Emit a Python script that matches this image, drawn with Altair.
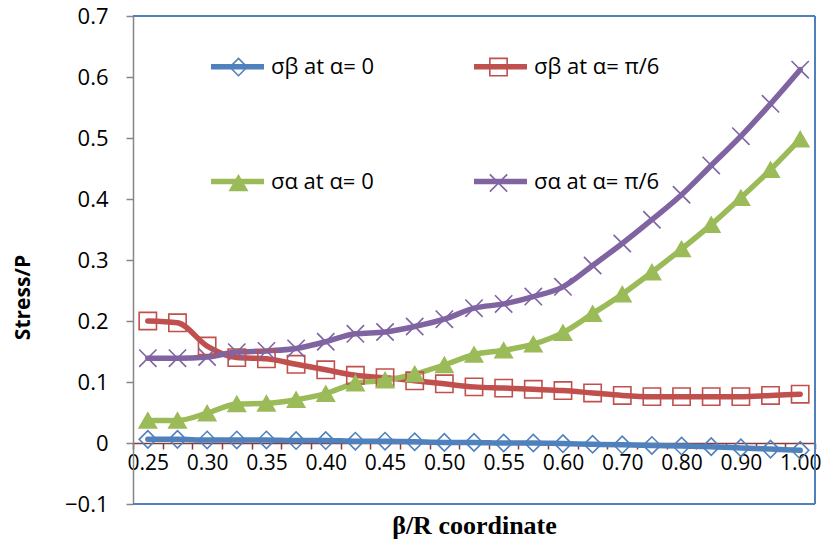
import altair as alt
import pandas as pd

# ---- data ----
x_values = [0.25, 0.275, 0.30, 0.325, 0.35, 0.375, 0.40, 0.425, 0.45, 0.475,
            0.50, 0.525, 0.55, 0.575, 0.60, 0.65, 0.70, 0.75, 0.80, 0.85,
            0.90, 0.95, 1.00]
x_tick_labels = ["0.25", "0.30", "0.35", "0.40", "0.45", "0.50", "0.55",
                 "0.60", "0.70", "0.80", "0.90", "1.00"]
y_ticks = [-0.1, 0.0, 0.1, 0.2, 0.3, 0.4, 0.5, 0.6, 0.7]

series_names = ["σβ at α= 0", "σβ at α= π/6", "σα at α= 0", "σα at α= π/6"]

sigma_b_a0 = [0.006, 0.006, 0.005, 0.005, 0.005, 0.004, 0.004, 0.003, 0.003,
              0.002, 0.001, 0.001, 0.000, 0.000, -0.001, -0.002, -0.003,
              -0.004, -0.005, -0.006, -0.008, -0.010, -0.012]
sigma_b_a30 = [0.200, 0.197, 0.159, 0.140, 0.138, 0.129, 0.120, 0.111, 0.107,
               0.102, 0.097, 0.092, 0.090, 0.088, 0.086, 0.082, 0.078, 0.076,
               0.076, 0.076, 0.076, 0.078, 0.080]
sigma_a_a0 = [0.037, 0.037, 0.049, 0.064, 0.065, 0.071, 0.081, 0.098, 0.103,
              0.113, 0.128, 0.145, 0.152, 0.162, 0.181, 0.212, 0.244, 0.280,
              0.318, 0.358, 0.402, 0.448, 0.498]
sigma_a_a30 = [0.139, 0.139, 0.141, 0.149, 0.151, 0.155, 0.166, 0.179, 0.182,
               0.191, 0.203, 0.221, 0.228, 0.240, 0.256, 0.291, 0.327, 0.366,
               0.407, 0.455, 0.503, 0.556, 0.612]

colors = ["#4F81BD", "#C0504D", "#9BBB59", "#8064A2"]
fills = ["transparent", "transparent", "#9BBB59", "transparent"]
shapes = ["diamond", "square", "triangle-up", "M-1,-1L1,1M1,-1L-1,1"]

# marker-layer names carry a trailing space so that their legend stays separate
marker_names = [n + " " for n in series_names]

rows = []
for name, mname, vals in zip(series_names, marker_names,
                             [sigma_b_a0, sigma_b_a30, sigma_a_a0, sigma_a_a30]):
    for xv, yv in zip(x_values, vals):
        rows.append({"x": xv, "y": yv, "series": name, "series_m": mname})
df = pd.DataFrame(rows)

W, H = 682, 488
FONT = "Open Sans"
label_list = "[" + ",".join(f"'{t}'" for t in x_tick_labels) + "]"
x_label_expr = (f"indexof({label_list}, format(toNumber(datum.value), '.2f')) >= 0 "
                f"? format(toNumber(datum.value), '.2f') : ''")

x_enc = alt.X(
    "x:O",
    bandPosition=0.5,
    scale=alt.Scale(type="band", paddingInner=0, paddingOuter=0),
    axis=alt.Axis(
        orient="bottom", offset=-61, grid=False,
        domainColor="#8B3A3A", domainWidth=1.5,
        tickColor="#8B3A3A", tickWidth=1.5, tickSize=6, tickBand="extent",
        labelExpr=x_label_expr, labelFont=FONT, labelFontSize=21,
        labelColor="black", labelPadding=3, labelAngle=0, labelOverlap=False,
        title="β/R coordinate", titleFont="Liberation Serif", titleFontSize=26,
        titleFontWeight="bold", titleColor="black", titleY=90,
        titleBaseline="alphabetic",
    ),
)
y_enc = alt.Y(
    "y:Q",
    scale=alt.Scale(domain=[-0.1, 0.7], nice=False, zero=False),
    axis=alt.Axis(
        values=y_ticks, grid=False,
        labelExpr="abs(datum.value) < 1e-9 ? '0' : format(datum.value, '.1f')",
        domainColor="#868686", domainWidth=1.5,
        tickColor="#868686", tickWidth=1.5, tickSize=7,
        labelFont=FONT, labelFontSize=22, labelColor="black", labelPadding=18,
        title="Stress/P", titleFont=FONT, titleFontSize=21, titleFontWeight="bold",
        titleColor="black", titlePadding=31, titleY=281,
    ),
)

base_legend = dict(
    orient="none", legendX=75, columns=2, title=None, padding=0,
    labelFont=FONT, labelFontSize=22, labelColor="black", labelLimit=0,
    direction="horizontal",
)

lines = alt.Chart(df).mark_line(
    strokeWidth=5.5, interpolate="monotone", strokeCap="round", strokeJoin="round"
).encode(
    x=x_enc, y=y_enc,
    color=alt.Color("series:N", sort=series_names,
                    scale=alt.Scale(domain=series_names, range=colors),
                    legend=alt.Legend(symbolType="stroke", symbolStrokeWidth=5.5,
                                      symbolSize=2809, legendY=21,
                                      columnPadding=88, rowPadding=74,
                                      **base_legend)),
)

marker_legend = dict(symbolSize=300, symbolStrokeWidth=1.6, symbolOffset=19.5,
                     labelOffset=0, labelExpr="''", legendY=40,
                     columnPadding=217, rowPadding=92, **base_legend)
points = alt.Chart(df).mark_point(
    filled=False, size=300, strokeWidth=1.6, opacity=1
).encode(
    x=x_enc, y=y_enc,
    shape=alt.Shape("series_m:N", scale=alt.Scale(domain=marker_names, range=shapes),
                    legend=alt.Legend(**marker_legend)),
    stroke=alt.Stroke("series_m:N", scale=alt.Scale(domain=marker_names, range=colors),
                      legend=alt.Legend(**marker_legend)),
    fill=alt.Fill("series_m:N", scale=alt.Scale(domain=marker_names, range=fills),
                  legend=alt.Legend(**marker_legend)),
)

frame_color = "#4F81BD"
top_rule = alt.Chart(df).mark_rule(color=frame_color, strokeWidth=1.5).encode(
    x=alt.value(0), x2=alt.value(W), y=alt.value(0))
right_rule = alt.Chart(df).mark_rule(color=frame_color, strokeWidth=1.5).encode(
    x=alt.value(W), y=alt.value(0), y2=alt.value(H))
bottom_rule = alt.Chart(df).mark_rule(color=frame_color, strokeWidth=1.5).encode(
    x=alt.value(0), x2=alt.value(W), y=alt.value(H))

chart = alt.layer(top_rule, right_rule, bottom_rule, lines, points).properties(
    width=W, height=H,
    padding={"left": 125, "top": 8, "right": 6, "bottom": 37},
    autosize=alt.AutoSizeParams(type="none"),
).configure_view(stroke=None)

chart.save("out.html", embed_options={"renderer": "svg", "actions": False})
